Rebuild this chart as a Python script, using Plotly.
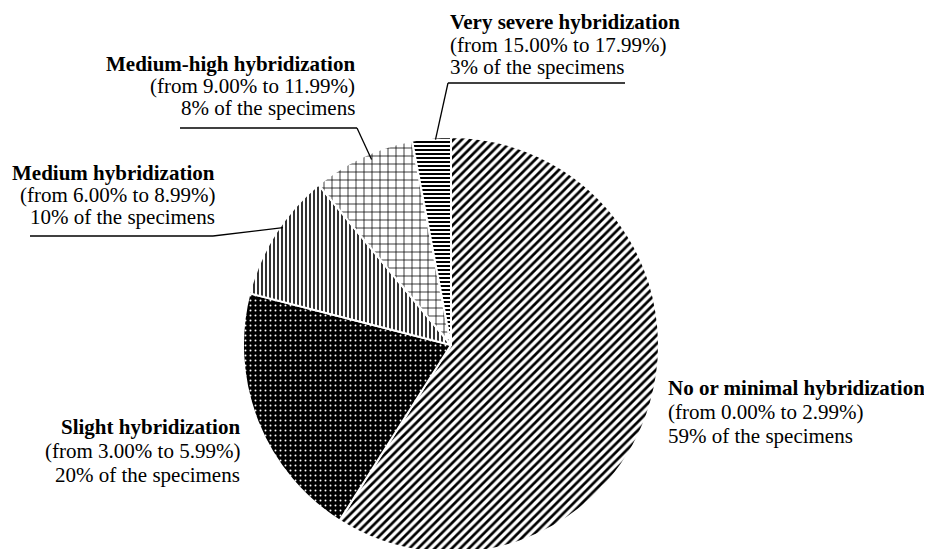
import math
import plotly.graph_objects as go

# ---- data ----
categories = ["No or minimal hybridization", "Slight hybridization", "Medium hybridization",
              "Medium-high hybridization", "Very severe hybridization"]
ranges = ["(from 0.00% to 2.99%)", "(from 3.00% to 5.99%)", "(from 6.00% to 8.99%)",
          "(from 9.00% to 11.99%)", "(from 15.00% to 17.99%)"]
shares = [59, 20, 10, 8, 3]

W, H = 932, 549
OFF = 8  # page body margin in the screenshot
def px(x):
    return (x - OFF) / W
def py(y):
    return 1 - (y - OFF) / H

# pie placement (screen pixels)
CX, CY, R = 451, 345, 208
dom_x = [px(CX - R), px(CX + R)]
dom_y = [py(CY + R), py(CY - R)]

patterns = dict(
    shape=["/", ".", "|", "+", "-"],
    fgcolor=["black", "white", "black", "black", "black"],
    bgcolor=["white", "black", "white", "white", "white"],
    size=[6, 5, 4, 8, 4],
    solidity=[0.45, 0.12, 0.4, 0.18, 0.5],
    fillmode="replace",
)

fig = go.Figure(go.Pie(
    labels=categories, values=shares, sort=False, direction="clockwise", rotation=0,
    textinfo="none", hoverinfo="label+percent",
    marker=dict(colors=["white"] * 5, pattern=patterns, line=dict(color="white", width=2)),
    domain=dict(x=dom_x, y=dom_y), showlegend=False,
))

total = sum(shares)
def edge_point(idx, frac, rr=0.99):
    start = sum(shares[:idx]) / total * 360
    ang = math.radians(start + frac * shares[idx] / total * 360)
    return CX + R * rr * math.sin(ang), CY - R * rr * math.cos(ang)

FONT = "Liberation Serif, Times New Roman, serif"
# idx, x, first-line y, line step, anchor
blocks = [
    (4, 449, 22, 22.5, "left"),
    (3, 356, 64, 22, "right"),
    (2, 216, 173, 22, "right"),
    (1, 241, 427, 24, "right"),
    (0, 667, 388, 24, "left"),
]
for i, x, y0, step, anc in blocks:
    lines = [f"<b>{categories[i]}</b>", ranges[i], f"{shares[i]}% of the specimens"]
    for k, t in enumerate(lines):
        fig.add_annotation(x=px(x), y=py(y0 + k * step), xref="paper", yref="paper", text=t,
                           showarrow=False, xanchor=anc, yanchor="middle", align=anc,
                           borderpad=0, font=dict(family=FONT, size=21, color="black"))

line_style = dict(color="black", width=1.3)
shapes = []
ex, ey = edge_point(4, 0.6)
shapes.append(dict(type="line", x0=px(448), y0=py(83), x1=px(625), y1=py(83), line=line_style))
shapes.append(dict(type="line", x0=px(448), y0=py(83), x1=px(ex), y1=py(ey), line=line_style))
ex, ey = edge_point(3, 0.57, 0.97)
shapes.append(dict(type="line", x0=px(180), y0=py(128), x1=px(357), y1=py(128), line=line_style))
shapes.append(dict(type="line", x0=px(357), y0=py(128), x1=px(ex), y1=py(ey), line=line_style))
ex, ey = edge_point(2, 0.57, 0.985)
shapes.append(dict(type="line", x0=px(30), y0=py(236), x1=px(213), y1=py(236), line=line_style))
shapes.append(dict(type="line", x0=px(213), y0=py(236), x1=px(ex), y1=py(ey), line=line_style))
for s in shapes:
    s["xref"] = "paper"; s["yref"] = "paper"
fig.update_layout(shapes=shapes, width=W, height=H, margin=dict(l=0, r=0, t=0, b=0),
                  paper_bgcolor="white", plot_bgcolor="white")
fig.write_html("out.html")
